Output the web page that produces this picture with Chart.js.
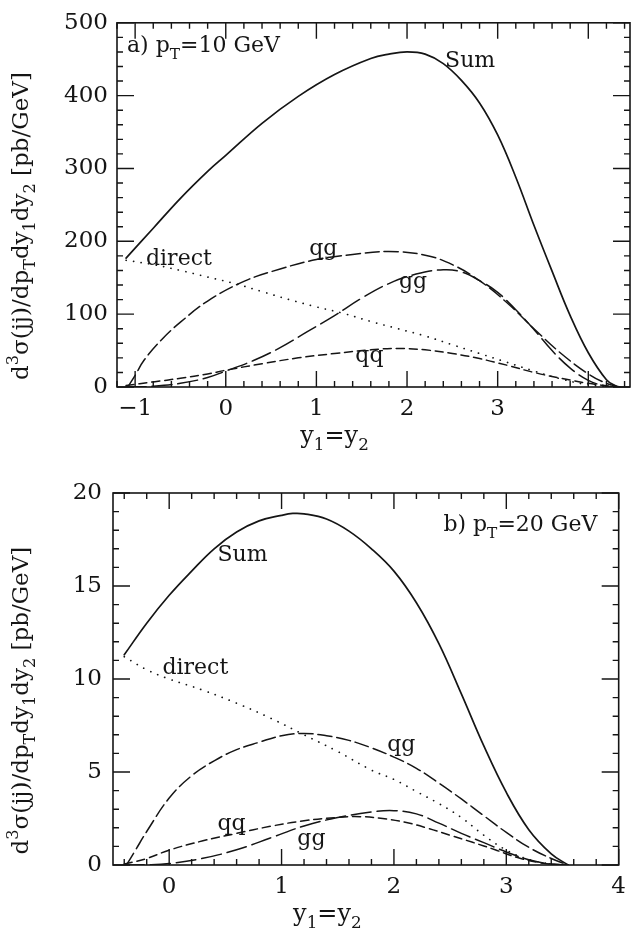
<!DOCTYPE html>
<html>
<head>
<meta charset="utf-8">
<script src="https://cdn.jsdelivr.net/npm/chart.js@4.4.1/dist/chart.umd.min.js"></script>
<style>
  html, body { margin: 0; padding: 0; background: #fff; }
  canvas { display: block; }
</style>
</head>
<body>
<canvas id="chartA" width="634" height="460"></canvas>
<canvas id="chartB" width="634" height="471"></canvas>
<script>
// ---- panel a) pT = 10 GeV ----
const sumAx = [-1.1, -0.8, -0.5, -0.2, 0, 0.4, 0.8, 1.2, 1.6, 1.8, 2.0, 2.2, 2.4, 2.6, 2.8, 3.0, 3.2, 3.4, 3.6, 3.8, 4.0, 4.2, 4.32];
const sumAy = [177, 218, 259, 296, 318, 362, 399, 429, 451, 457, 460, 457, 444, 421, 390, 346, 288, 222, 159, 98, 47, 10, 0];
const directAx = [-1.1, -0.8, -0.5, -0.2, 0.1, 0.4, 0.7, 1.0, 1.3, 1.6, 1.9, 2.2, 2.5, 2.8, 3.1, 3.4, 3.7, 4.0, 4.3];
const directAy = [174, 168, 160, 151, 142, 131, 120, 110, 101, 90, 80, 70, 58, 46, 34, 22, 11, 3, 0];
const qgAx = [-1.08, -1.0, -0.9, -0.7, -0.5, -0.2, 0.2, 0.6, 1.0, 1.4, 1.8, 2.2, 2.5, 2.8, 3.1, 3.4, 3.7, 4.0, 4.2, 4.35];
const qgAy = [0, 16, 37, 66, 89, 118, 145, 162, 175, 182, 186, 181, 168, 146, 116, 80, 46, 18, 5, 0];
const ggAx = [-1.1, -0.8, -0.5, -0.2, 0, 0.3, 0.6, 0.9, 1.2, 1.5, 1.8, 2.1, 2.4, 2.6, 2.8, 3.0, 3.2, 3.4, 3.6, 3.8, 4.0, 4.2, 4.3];
const ggAy = [0, 1, 5, 13, 22, 36, 54, 76, 98, 122, 142, 155, 161, 158, 146, 130, 106, 79, 50, 26, 9, 1, 0];
const qqAx = [-1.1, -0.8, -0.5, -0.2, 0, 0.4, 0.8, 1.2, 1.6, 1.9, 2.2, 2.5, 2.8, 3.1, 3.4, 3.7, 4.0, 4.3];
const qqAy = [2, 7, 12, 18, 23, 32, 40, 46, 51, 53, 51, 46, 39, 30, 20, 12, 5, 0];
const xTicksA = [-1, 0, 1, 2, 3, 4];

// ---- panel b) pT = 20 GeV ----
const sumBx = [-0.4, -0.2, 0, 0.2, 0.4, 0.6, 0.8, 1.0, 1.1, 1.2, 1.4, 1.6, 1.8, 2.0, 2.2, 2.4, 2.6, 2.8, 3.0, 3.2, 3.4, 3.55];
const sumBy = [11.3, 13.0, 14.5, 15.8, 17.0, 17.9, 18.5, 18.8, 18.9, 18.88, 18.6, 17.95, 17.0, 15.8, 14.1, 11.9, 9.2, 6.4, 3.9, 1.9, 0.6, 0];
const directBx = [-0.4, -0.2, 0, 0.3, 0.6, 0.9, 1.2, 1.5, 1.8, 2.0, 2.2, 2.4, 2.6, 2.8, 3.0, 3.2, 3.4, 3.5];
const directBy = [11.2, 10.5, 10.0, 9.4, 8.7, 7.9, 7.0, 6.1, 5.1, 4.6, 3.95, 3.3, 2.55, 1.6, 0.8, 0.3, 0.05, 0];
const qgBx = [-0.38, -0.3, -0.2, 0, 0.2, 0.4, 0.6, 0.8, 1.0, 1.2, 1.4, 1.6, 1.8, 2.0, 2.2, 2.4, 2.6, 2.8, 3.0, 3.2, 3.4, 3.55];
const qgBy = [0, 0.8, 1.8, 3.6, 4.8, 5.6, 6.2, 6.6, 6.95, 7.07, 6.95, 6.7, 6.3, 5.8, 5.2, 4.4, 3.55, 2.65, 1.75, 0.95, 0.35, 0];
const ggBx = [-0.4, -0.2, 0, 0.3, 0.6, 0.9, 1.2, 1.5, 1.8, 2.0, 2.2, 2.4, 2.6, 2.8, 3.0, 3.2, 3.4, 3.55];
const ggBy = [0, 0.01, 0.08, 0.36, 0.82, 1.45, 2.1, 2.55, 2.85, 2.92, 2.75, 2.25, 1.7, 1.2, 0.7, 0.28, 0.05, 0];
const qqBx = [-0.4, -0.2, 0, 0.3, 0.6, 0.9, 1.2, 1.5, 1.7, 1.9, 2.1, 2.3, 2.5, 2.7, 2.9, 3.1, 3.3, 3.5];
const qqBy = [0.05, 0.35, 0.8, 1.3, 1.7, 2.08, 2.38, 2.56, 2.6, 2.5, 2.3, 1.98, 1.6, 1.22, 0.82, 0.4, 0.12, 0];
const xTicksB = [0, 1, 2, 3, 4];

const SERIF = '"DejaVu Serif", serif';
const INK = '#151515';

const yTitle = [['d', ''], ['3', 'sup'], ['σ(jj)/dp', ''], ['T', 'sub'], ['dy', ''], ['1', 'sub'], ['dy', ''], ['2', 'sub'], [' [pb/GeV]', '']];
const xTitle = [['y', ''], ['1', 'sub'], ['=y', ''], ['2', 'sub']];

function drawRich(ctx, parts, x, y, size, draw) {
  let cx = x;
  parts.forEach(([t, k]) => {
    const s = k ? size * 0.7 : size;
    ctx.font = s + 'px ' + SERIF;
    const dy = k === 'sub' ? size * 0.3 : (k === 'sup' ? -size * 0.42 : 0);
    if (draw !== false) ctx.fillText(t, cx, y + dy);
    cx += ctx.measureText(t).width;
  });
  return cx - x;
}

function line(xs, ys, dash, width) {
  return {
    data: xs.map((v, i) => ({ x: v, y: ys[i] })),
    showLine: true,
    borderColor: INK,
    borderWidth: width || 1.5,
    borderDash: dash || [],
    borderCapStyle: 'round',
    tension: 0.4,
    pointRadius: 0,
    fill: false
  };
}

// frame with inward major/minor ticks on all four sides
const frameTicks = {
  id: 'frameTicks',
  afterDraw(chart, args, o) {
    const { ctx, chartArea: a, scales: { x, y } } = chart;
    ctx.save();
    ctx.strokeStyle = INK;
    ctx.lineWidth = 1.6;
    ctx.strokeRect(a.left, a.top, a.right - a.left, a.bottom - a.top);
    ctx.lineWidth = 1.4;
    ctx.beginPath();
    for (let i = Math.ceil(x.min / o.xStep - 1e-6); i * o.xStep <= x.max + 1e-6; i++) {
      const v = i * o.xStep;
      const major = Math.abs(v / o.xMajor - Math.round(v / o.xMajor)) < 1e-6;
      const len = major ? 16 : 6;
      const px = x.getPixelForValue(v);
      ctx.moveTo(px, a.bottom); ctx.lineTo(px, a.bottom - len);
      ctx.moveTo(px, a.top); ctx.lineTo(px, a.top + len);
    }
    for (let i = Math.ceil(y.min / o.yStep - 1e-6); i * o.yStep <= y.max + 1e-6; i++) {
      const v = i * o.yStep;
      const major = Math.abs(v / o.yMajor - Math.round(v / o.yMajor)) < 1e-6;
      const len = major ? 17 : 6;
      const py = y.getPixelForValue(v);
      ctx.moveTo(a.left, py); ctx.lineTo(a.left + len, py);
      ctx.moveTo(a.right, py); ctx.lineTo(a.right - len, py);
    }
    ctx.stroke();
    ctx.restore();
  }
};

// curve labels, panel title and axis titles
const notes = {
  id: 'notes',
  afterDraw(chart, args, o) {
    const { ctx, chartArea: a, scales: { x, y } } = chart;
    ctx.save();
    ctx.fillStyle = INK;
    ctx.textAlign = 'left';
    ctx.textBaseline = 'alphabetic';
    o.items.forEach(it => {
      drawRich(ctx, it.parts, x.getPixelForValue(it.x), y.getPixelForValue(it.y), it.size);
    });
    const xw = drawRich(ctx, xTitle, 0, 0, 24, false);
    drawRich(ctx, xTitle, a.left + 0.424 * (a.right - a.left) - xw / 2, a.bottom + 56, 24);
    ctx.translate(28, a.top + 0.558 * (a.bottom - a.top));
    ctx.rotate(-Math.PI / 2);
    const yw = drawRich(ctx, yTitle, 0, 0, 23, false);
    drawRich(ctx, yTitle, -yw / 2, 0, 23);
    ctx.restore();
  }
};

function makeChart(id, cfg) {
  return new Chart(document.getElementById(id), {
    type: 'scatter',
    data: { datasets: cfg.datasets },
    options: {
      responsive: false,
      animation: false,
      devicePixelRatio: 1,
      layout: { padding: { top: cfg.padTop, right: cfg.padRight, left: 0, bottom: 0 } },
      scales: {
        x: {
          type: 'linear', min: cfg.xMin, max: cfg.xMax,
          grid: { display: false, drawTicks: false },
          border: { display: false },
          afterBuildTicks: s => { s.ticks = cfg.xTicks.map(v => ({ value: v })); },
          afterFit: s => { s.height = cfg.xHeight; },
          ticks: {
            padding: 8, color: INK, font: { family: SERIF, size: 23 },
            callback: v => String(v).replace('-', '\u2212')
          }
        },
        y: {
          type: 'linear', min: 0, max: cfg.yMax,
          grid: { display: false, drawTicks: false },
          border: { display: false },
          afterFit: s => { s.width = cfg.yWidth; },
          ticks: { stepSize: cfg.yMajor, padding: cfg.yPad, color: INK, font: { family: SERIF, size: 23 } }
        }
      },
      plugins: {
        legend: { display: false },
        tooltip: { enabled: false },
        frameTicks: { xStep: 0.2, xMajor: 1, yStep: cfg.yMinor, yMajor: cfg.yMajor },
        notes: { items: cfg.labels }
      }
    },
    plugins: [frameTicks, notes]
  });
}

const DOT = [0.1, 7.5], QG = [14, 5], GG = [20, 6], QQ = [8, 5];

makeChart('chartA', {
  datasets: [
    line(sumAx, sumAy, [], 1.7),
    line(directAx, directAy, DOT, 1.7),
    line(qgAx, qgAy, QG),
    line(ggAx, ggAy, GG),
    line(qqAx, qqAy, QQ)
  ],
  xMin: -1.2, xMax: 4.46, xTicks: xTicksA, yMax: 500, yMajor: 100, yMinor: 20,
  padTop: 13, padRight: 4, xHeight: 73, yWidth: 117, yPad: 9,
  labels: [
    { parts: [['a) p', ''], ['T', 'sub'], ['=10 GeV', '']], x: -1.09, y: 459.5, size: 22 },
    { parts: [['Sum', '']], x: 2.42, y: 439, size: 22 },
    { parts: [['direct', '']], x: -0.88, y: 167, size: 22 },
    { parts: [['qg', '']], x: 0.92, y: 181, size: 22 },
    { parts: [['gg', '']], x: 1.91, y: 136, size: 22 },
    { parts: [['qq', '']], x: 1.43, y: 34, size: 22 }
  ]
});

makeChart('chartB', {
  datasets: [
    line(sumBx, sumBy, [], 1.7),
    line(directBx, directBy, DOT, 1.7),
    line(qgBx, qgBy, QG),
    line(ggBx, ggBy, GG),
    line(qqBx, qqBy, QQ)
  ],
  xMin: -0.5, xMax: 4, xTicks: xTicksB, yMax: 20, yMajor: 5, yMinor: 1,
  padTop: 33, padRight: 4, xHeight: 66, yWidth: 113, yPad: 11,
  labels: [
    { parts: [['b) p', ''], ['T', 'sub'], ['=20 GeV', '']], x: 2.44, y: 17.94, size: 22 },
    { parts: [['Sum', '']], x: 0.43, y: 16.32, size: 22 },
    { parts: [['direct', '']], x: -0.06, y: 10.28, size: 22 },
    { parts: [['qg', '']], x: 1.94, y: 6.14, size: 22 },
    { parts: [['qq', '']], x: 0.43, y: 1.88, size: 22 },
    { parts: [['gg', '']], x: 1.14, y: 1.08, size: 22 }
  ]
});
</script>
</body>
</html>
